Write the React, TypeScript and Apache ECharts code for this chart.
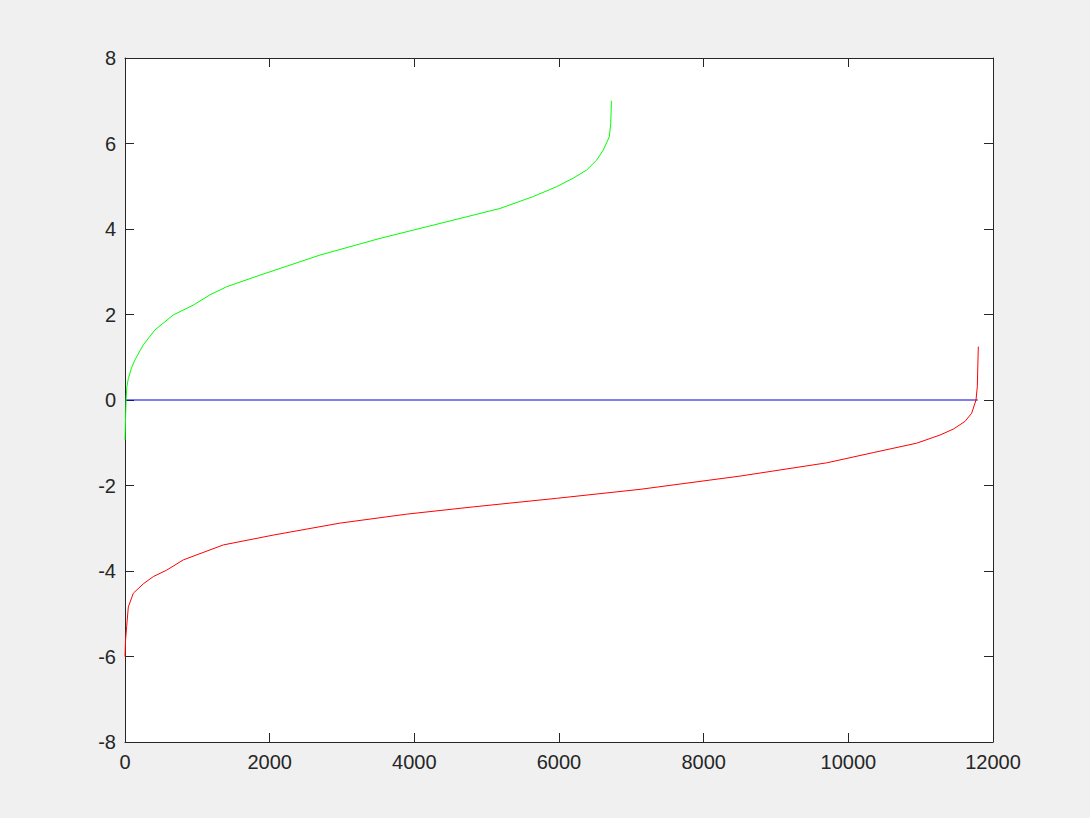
import React, { useEffect, useRef } from "react";
import * as echarts from "echarts";

const xTicks = [0, 2000, 4000, 6000, 8000, 10000, 12000];
const yTicks = [-8, -6, -4, -2, 0, 2, 4, 6, 8];

const greenCurve: [number, number][] = [
  [0, -0.94], [8, -0.4], [15, 0], [25, 0.3], [46, 0.5], [90, 0.75], [138, 0.94],
  [253, 1.29], [415, 1.64], [668, 1.99], [944, 2.22], [1175, 2.46], [1406, 2.65],
  [1866, 2.92], [2696, 3.39], [3525, 3.78], [4355, 4.13], [5184, 4.48], [5645, 4.76],
  [5968, 4.99], [6198, 5.19], [6383, 5.38], [6521, 5.61], [6613, 5.85], [6696, 6.16],
  [6715, 6.47], [6722, 6.8], [6724, 7.0],
];

const redCurve: [number, number][] = [
  [0, -6.0], [8, -5.6], [23, -5.3], [46, -4.84], [115, -4.52], [253, -4.3], [392, -4.13],
  [576, -3.98], [806, -3.74], [1359, -3.39], [2050, -3.16], [2972, -2.88], [3894, -2.67],
  [4815, -2.5], [5968, -2.3], [7120, -2.09], [8502, -1.78], [9701, -1.47], [10346, -1.23],
  [10945, -1.01], [11267, -0.82], [11452, -0.68], [11613, -0.5], [11705, -0.31],
  [11765, 0], [11783, 0.31], [11797, 1.25],
];

const zeroLine: [number, number][] = [
  [0, 0], [11790, 0],
];

export default function App() {
  const ref = useRef<HTMLDivElement>(null);
  useEffect(() => {
    if (!ref.current) return;
    const chart = echarts.init(ref.current, undefined, { renderer: "svg" });
    const axisColor = "#262626";
    const font = "'Liberation Sans', Helvetica, Arial, sans-serif";
    const common = {
      type: "value" as const,
      axisLine: { show: true, onZero: false, lineStyle: { color: axisColor, width: 1 } },
      axisTick: { show: true, inside: true, length: 9, lineStyle: { color: axisColor } },
      splitLine: { show: false },
    };
    const fmt = (v: number) => String(v);
    chart.setOption({
      animation: false,
      backgroundColor: "#f0f0f0",
      grid: {
        left: 125, right: 97, top: 58, bottom: 76,
        show: true, backgroundColor: "#ffffff", borderWidth: 0,
      },
      xAxis: [
        {
          ...common, min: xTicks[0], max: xTicks[xTicks.length - 1], interval: 2000, position: "bottom",
          axisLabel: { color: axisColor, fontSize: 20, fontFamily: font, margin: 10, formatter: fmt },
        },
        {
          ...common, min: xTicks[0], max: xTicks[xTicks.length - 1], interval: 2000, position: "top",
          axisLabel: { show: false },
        },
      ],
      yAxis: [
        {
          ...common, min: yTicks[0], max: yTicks[yTicks.length - 1], interval: 2, position: "left",
          axisLabel: { color: axisColor, fontSize: 20, fontFamily: font, margin: 9, formatter: fmt },
        },
        {
          ...common, min: yTicks[0], max: yTicks[yTicks.length - 1], interval: 2, position: "right",
          axisLabel: { show: false },
        },
      ],
      series: [
        {
          type: "line", data: zeroLine, showSymbol: false, symbol: "none",
          lineStyle: { color: "#0000e0", width: 1.2 }, silent: true,
        },
        {
          type: "line", data: greenCurve, showSymbol: false, symbol: "none",
          lineStyle: { color: "#00ff00", width: 1 }, silent: true,
        },
        {
          type: "line", data: redCurve, showSymbol: false, symbol: "none",
          lineStyle: { color: "#ff0000", width: 1 }, silent: true,
        },
      ],
    });
    return () => chart.dispose();
  }, []);
  return (
    <div
      ref={ref}
      style={{ position: "fixed", left: 0, top: 0, width: 1090, height: 818 }}
    />
  );
}
